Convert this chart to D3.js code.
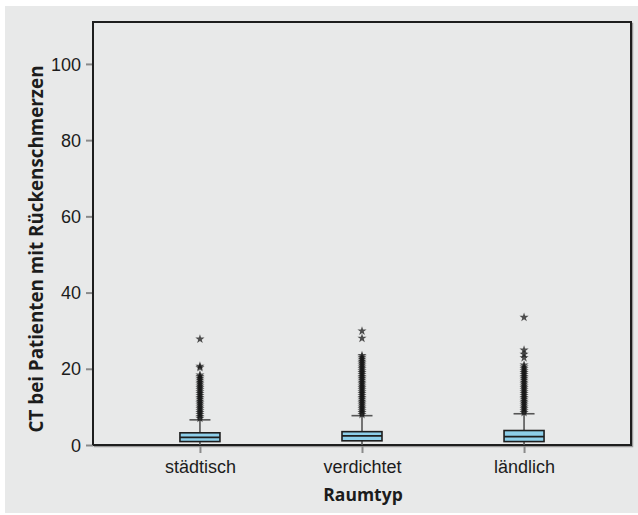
<!DOCTYPE html>
<html>
<head>
<meta charset="utf-8">
<script src="https://cdn.jsdelivr.net/npm/d3@7/dist/d3.min.js"></script>
<style>
  html, body { margin: 0; padding: 0; background: #ffffff; }
  svg { display: block; font-family: "Open Sans", "Noto Sans", sans-serif; }
</style>
</head>
<body>
<svg id="chart" width="638" height="515"></svg>
<script>
// Raumtypen (x-axis categories)
const categories = ["städtisch", "verdichtet", "ländlich"];

// Box statistics per Raumtyp
const whiskerLow  = [0, 0, 0];
const quartile1   = [0.9, 1.1, 0.9];
const medians     = [2.0, 2.4, 2.2];
const quartile3   = [3.2, 3.5, 3.8];
const whiskerHigh = [6.6, 7.7, 8.2];

// Extreme values (drawn as stars) per Raumtyp
const extremesStaedtisch = [7.0, 7.5, 8.0, 8.5, 9.0, 9.5, 10.0, 10.5, 11.0, 11.5, 12.0, 12.5,
  13.0, 13.5, 14.0, 14.5, 15.0, 15.5, 16.0, 16.5, 17.0, 17.5, 18.0, 18.4, 20.3, 20.7, 27.8];
const extremesVerdichtet = [8.0, 8.5, 9.0, 9.5, 10.0, 10.5, 11.0, 11.5, 12.0, 12.5, 13.0, 13.5,
  14.0, 14.5, 15.0, 15.5, 16.0, 16.5, 17.0, 17.5, 18.0, 18.5, 19.0, 19.5, 20.0, 20.5, 21.0,
  21.5, 22.0, 22.5, 23.0, 23.5, 28.0, 29.9];
const extremesLaendlich = [8.5, 9.0, 9.5, 10.0, 10.5, 11.0, 11.5, 12.0, 12.5, 13.0, 13.5, 14.0,
  14.5, 15.0, 15.5, 16.0, 16.5, 17.0, 17.5, 18.0, 18.5, 19.0, 19.5, 20.0, 20.5, 21.0, 22.9,
  23.8, 24.9, 33.5];
const extremes = [extremesStaedtisch, extremesVerdichtet, extremesLaendlich];

// Axis ticks and titles
const yTicks = [0, 20, 40, 60, 80, 100];
const yMax = 111;
const yTitle = "CT bei Patienten mit Rückenschmerzen";
const xTitle = "Raumtyp";

const svg = d3.select("#chart");
const W = 638, H = 515;
const plot = { left: 93, right: 631, top: 22, bottom: 445 };
const textColor = "#1c1c1c";

// Page background
svg.append("rect")
  .attr("x", 5).attr("y", 6).attr("width", W - 5).attr("height", H - 8)
  .attr("fill", "#e8e9e9");

const x = d3.scalePoint()
  .domain(categories)
  .range([plot.left, plot.right])
  .padding(0.66);

const y = d3.scaleLinear()
  .domain([0, yMax])
  .range([plot.bottom, plot.top]);

// Frame with soft shadow
svg.append("rect")
  .attr("x", plot.left + 1.5).attr("y", plot.top + 1.5)
  .attr("width", plot.right - plot.left).attr("height", plot.bottom - plot.top)
  .attr("fill", "none").attr("stroke", "#9a9a9a").attr("stroke-width", 1.5);
svg.append("rect")
  .attr("x", plot.left).attr("y", plot.top)
  .attr("width", plot.right - plot.left).attr("height", plot.bottom - plot.top)
  .attr("fill", "#e8e9e9").attr("stroke", "#1e1e1e").attr("stroke-width", 2);

// Y axis
const yAxis = d3.axisLeft(y).tickValues(yTicks).tickSize(7).tickPadding(5);
const gy = svg.append("g").attr("transform", `translate(${plot.left},0)`).call(yAxis);
gy.select(".domain").remove();
gy.selectAll(".tick line").attr("stroke", "#8a8a8a").attr("stroke-width", 2);
gy.selectAll(".tick text")
  .attr("fill", textColor).style("font-size", "18px").attr("dy", "0.34em");

// X axis
const xAxis = d3.axisBottom(x).tickSize(8).tickPadding(8);
const gx = svg.append("g").attr("transform", `translate(0,${plot.bottom})`).call(xAxis);
gx.select(".domain").remove();
gx.selectAll(".tick line").attr("stroke", "#8a8a8a").attr("stroke-width", 2);
gx.selectAll(".tick text")
  .attr("fill", textColor).style("font-size", "18px").attr("dy", "0.66em");

// Redraw frame edges on top of tick roots
svg.append("line")
  .attr("x1", plot.left).attr("x2", plot.right)
  .attr("y1", plot.bottom).attr("y2", plot.bottom)
  .attr("stroke", "#1e1e1e").attr("stroke-width", 2);
svg.append("line")
  .attr("x1", plot.left).attr("x2", plot.left)
  .attr("y1", plot.top).attr("y2", plot.bottom)
  .attr("stroke", "#1e1e1e").attr("stroke-width", 2);

// Axis titles
svg.append("text")
  .attr("x", (plot.left + plot.right) / 2 + 1).attr("y", 501)
  .attr("text-anchor", "middle")
  .attr("fill", textColor).style("font-size", "17.5px").style("font-weight", "bold")
  .text(xTitle);

svg.append("text")
  .attr("transform", `translate(43,249) rotate(-90)`)
  .attr("text-anchor", "middle")
  .attr("fill", textColor).style("font-size", "18.8px").style("font-weight", "bold")
  .text(yTitle);

// Boxplots
const boxW = 40, capW = 21;
const boxes = categories.map((c, i) => ({
  c, lo: whiskerLow[i], q1: quartile1[i], med: medians[i], q3: quartile3[i], hi: whiskerHigh[i],
  ext: extremes[i]
}));

const g = svg.append("g");
boxes.forEach(b => {
  const cx = x(b.c);
  const gb = g.append("g");
  // whiskers
  gb.append("line")
    .attr("x1", cx).attr("x2", cx).attr("y1", y(b.q3)).attr("y2", y(b.hi))
    .attr("stroke", "#555").attr("stroke-width", 1.6);
  gb.append("line")
    .attr("x1", cx).attr("x2", cx).attr("y1", y(b.lo)).attr("y2", y(b.q1))
    .attr("stroke", "#555").attr("stroke-width", 1.6);
  gb.append("line")
    .attr("x1", cx - capW / 2).attr("x2", cx + capW / 2).attr("y1", y(b.hi)).attr("y2", y(b.hi))
    .attr("stroke", "#555").attr("stroke-width", 1.6);
  // stars
  const star = d3.symbol().type(d3.symbolStar).size(26);
  gb.selectAll("path.star").data(b.ext).join("path")
    .attr("class", "star")
    .attr("transform", v => `translate(${cx},${y(v)})`)
    .attr("d", star)
    .attr("fill", "#111").attr("fill-opacity", 0.72);
  // box
  gb.append("rect")
    .attr("x", cx - boxW / 2).attr("y", y(b.q3))
    .attr("width", boxW).attr("height", y(b.q1) - y(b.q3))
    .attr("fill", "#8dcfea").attr("stroke", "#1e1e1e").attr("stroke-width", 1.6);
  gb.append("line")
    .attr("x1", cx - boxW / 2).attr("x2", cx + boxW / 2)
    .attr("y1", y(b.med)).attr("y2", y(b.med))
    .attr("stroke", "#1e1e1e").attr("stroke-width", 1.6);
});
</script>
</body>
</html>
